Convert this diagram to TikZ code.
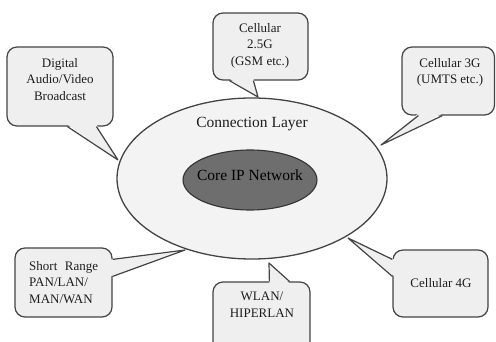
\documentclass[tikz,border=0pt]{standalone}
\usepackage{fontspec}
\setmainfont{Liberation Serif}
\usetikzlibrary{calc,shapes.geometric}

\definecolor{boxfill}{HTML}{EFEFEF}
\definecolor{layerfill}{HTML}{F3F3F3}
\definecolor{corefill}{HTML}{6E6E6E}
\definecolor{edge}{HTML}{444444}
\definecolor{coreedge}{HTML}{333333}
\definecolor{ink}{HTML}{1E1E1E}

% pointer of a callout: #1 and #3 on the box border, #2 the tip,
% #4 a small inward shift so the fill hides the border under the base
\newcommand\calloutptr[4]{%
  \fill[boxfill] ($(#1)+#4$) -- (#2) -- ($(#3)+#4$) -- cycle;
  \draw[ptrline] (#1) -- (#2) -- (#3);}

\begin{document}
\begin{tikzpicture}[x=1pt,y=-1pt,
  callbox/.style={draw=edge, line width=1.2pt, fill=boxfill,
    rounded corners=10pt, inner sep=0pt},
  ptrline/.style={draw=edge, line width=1.2pt, line join=round},
  calltext/.style={text=ink, inner sep=0pt,
    font=\fontsize{13}{16.5}\selectfont},
  layertext/.style={text=ink, inner sep=0pt,
    font=\fontsize{15.5}{18}\selectfont},
  coretext/.style={text=black, inner sep=0pt,
    font=\fontsize{15.5}{18}\selectfont}]

\useasboundingbox (0,0) rectangle (496,342);
\fill[white] (0,0) rectangle (496,342);
\clip (0,0) rectangle (496,342);

% connection layer and core network
\node[ellipse, draw=edge, line width=1.3pt, fill=layerfill,
  minimum width=270pt, minimum height=161pt, inner sep=0pt] (layer) at (252,178.5) {};
\node[ellipse, draw=coreedge, line width=1.1pt, fill=corefill,
  minimum width=134pt, minimum height=60pt, inner sep=0pt] (core) at (250,180) {};
\node[layertext, anchor=base] (layerlabel) at (252,128) {Connection Layer};
\node[coretext, anchor=base] (corelabel) at (250,181) {Core IP Network};

% callout boxes
\node[callbox, minimum width=106pt, minimum height=79pt] (dab)  at (60,86.5) {};
\node[callbox, minimum width=95pt,  minimum height=67pt] (gsm)  at (260.5,46.5) {};
\node[callbox, minimum width=92.5pt,minimum height=68pt] (umts) at (448.25,81) {};
\node[callbox, minimum width=97pt,  minimum height=69pt] (short) at (63.5,282.5) {};
\node[callbox, minimum width=97pt,  minimum height=70pt] (wlan) at (261.5,317) {};
\node[callbox, minimum width=95pt,  minimum height=67pt] (lte)  at (440.5,283.5) {};

% pointer tips on the layer border
\coordinate (dabtip)   at (118,160);
\coordinate (gsmtip)   at (258,97);
\coordinate (umtstip)  at (381,145);
\coordinate (shorttip) at (185,250);
\coordinate (wlantip)  at (269,263);
\coordinate (ltetip)   at (348,238);

% pointer bases on the box borders
\coordinate (dabA)   at ($(dab.south west)+(61,0)$);
\coordinate (dabB)   at ($(dab.south west)+(90,0)$);
\coordinate (gsmA)   at ($(gsm.south west)+(17,0)$);
\coordinate (gsmB)   at ($(gsm.south west)+(41,0)$);
\coordinate (umtsA)  at ($(umts.south west)+(17,0)$);
\coordinate (umtsB)  at ($(umts.south west)+(41,0)$);
\coordinate (shortA) at ($(short.north east)+(0,12)$);
\coordinate (shortB) at ($(short.north east)+(0,29)$);
\coordinate (wlanA)  at ($(wlan.north west)+(57,0)$);
\coordinate (wlanB)  at ($(wlan.north west)+(77,0)$);
\coordinate (lteA)   at ($(lte.north west)+(0,10)$);
\coordinate (lteB)   at ($(lte.north west)+(0,27)$);

\calloutptr{dabA}{dabtip}{dabB}{(0,-2)}
\calloutptr{gsmA}{gsmtip}{gsmB}{(0,-2)}
\calloutptr{umtsA}{umtstip}{umtsB}{(0,-2)}
\calloutptr{shortA}{shorttip}{shortB}{(-2,0)}
\calloutptr{wlanA}{wlantip}{wlanB}{(0,2)}
\calloutptr{lteA}{ltetip}{lteB}{(2,0)}

% callout texts
\node[calltext, align=center, anchor=north] (dabtext) at (60,58)
  {Digital\\Audio/Video\\Broadcast};
\node[calltext, align=center, anchor=north] (gsmtext) at (260,23)
  {Cellular\\2.5G\\(GSM etc.)};
\node[calltext, align=center, anchor=north] (umtstext) at (450,58)
  {Cellular 3G\\(UMTS etc.)};
\node[calltext, align=left, anchor=north west] (shorttext) at (29,261)
  {Short\hspace{7.5pt}Range\\PAN/LAN/\\MAN/WAN};
\node[calltext, align=center, anchor=north] (wlantext) at (262,292)
  {WLAN/\\HIPERLAN};
\node[calltext, align=center, anchor=north] (ltetext) at (441,278)
  {Cellular 4G};
\end{tikzpicture}
\end{document}
